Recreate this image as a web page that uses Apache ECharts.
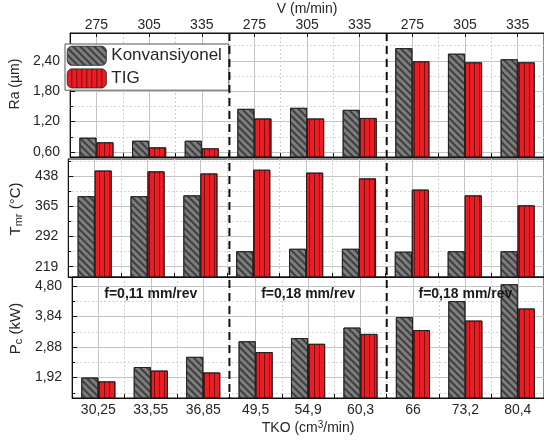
<!DOCTYPE html>
<html><head><meta charset="utf-8">
<script src="https://cdn.jsdelivr.net/npm/echarts@6/dist/echarts.min.js"></script>
<style>html,body{margin:0;padding:0;background:#fff}#c{width:544px;height:440px}</style>
</head><body><div id="c"></div>
<script>
// ---- data ----
const tkoLabels = ['30,25','33,55','36,85','49,5','54,9','60,3','66','73,2','80,4'];
const vLabels = ['275','305','335','275','305','335','275','305','335'];
const feedLabels = ['f=0,11 mm/rev','f=0,18 mm/rev','f=0,18 mm/rev'];
const seriesNames = ['Konvansiyonel','TIG'];
const raKonv = [0.88,0.82,0.82,1.45,1.47,1.43,2.65,2.54,2.43];
const raTIG  = [0.79,0.69,0.67,1.26,1.26,1.27,2.39,2.37,2.37];
const tmrKonv = [389,389,391,256,262,262,255,256,256];
const tmrTIG  = [451,449,444,453,446,432,405,391,367];
const pcKonv = [1.92,2.25,2.57,3.06,3.16,3.49,3.82,4.32,4.85];
const pcTIG  = [1.80,2.14,2.08,2.72,2.98,3.29,3.41,3.71,4.09];
const raTicks = [0.60,1.20,1.80,2.40];
const raMinor = [0.90,1.50,2.10,2.70];
const tmrTicks = [219,292,365,438];
const tmrMinor = [255.5,328.5,401.5,474.5];
const pcTicks = [1.92,2.88,3.84,4.80];
const pcMinor = [1.44,2.40,3.36,4.32];
const raRange = [0.5, 2.95];
const tmrRange = [194, 479];
const pcRange = [1.28, 5.08];

// ---- style ----
const FONT = "'Liberation Sans', Arial, sans-serif";
const TXT = '#262626';
const comma2 = v => Number(v).toFixed(2).replace('.', ',');
const halfCells = Array.from({length: 19}, () => '');

const grids = [
  {left: 64, width: 486, top: 33, height: 124},
  {left: 64, width: 486, top: 159, height: 118},
  {left: 64, width: 486, top: 277, height: 121}
].map(g => Object.assign(g, {show: true, borderColor: '#111', borderWidth: 1, backgroundColor: 'transparent'}));

function mainX(gridIndex, opts) {
  return Object.assign({
    type: 'category', gridIndex, data: tkoLabels, position: 'bottom',
    axisLine: {show: true, lineStyle: {color: '#111', width: 1}},
    axisTick: {show: true, inside: true, length: 4, lineStyle: {color: '#111'}},
    axisLabel: {show: false},
    splitLine: {show: true, lineStyle: {color: '#cfcfcf', type: [2, 2], width: 1}}
  }, opts || {});
}
function centerX(gridIndex) {
  return {
    type: 'category', gridIndex, data: halfCells, boundaryGap: false, position: 'bottom',
    axisLine: {show: false}, axisTick: {show: false}, axisLabel: {show: false},
    splitLine: {show: true, interval: (i) => i % 2 === 1, lineStyle: {color: '#c4c4c4', width: 1}}
  };
}
function mainY(gridIndex, range, ticks, fmt, name) {
  return {
    type: 'value', gridIndex, min: range[0], max: range[1],
    axisLine: {show: true, lineStyle: {color: '#111'}},
    axisTick: {show: true, inside: true, length: 5, customValues: ticks, lineStyle: {color: '#111'}},
    axisLabel: {customValues: ticks, formatter: fmt, fontFamily: FONT, fontSize: 14, color: TXT, margin: 10},
    splitLine: {show: true, lineStyle: {color: '#c4c4c4', width: 1}},
    name: name.text, nameLocation: 'middle', nameGap: name.gap, nameRotate: 90,
    nameTextStyle: {fontFamily: FONT, fontSize: 14, color: TXT, padding: [0, 0, 0, name.shift], rich: name.rich || {}}
  };
}
function minorY(gridIndex, range, ticks) {
  return {
    type: 'value', gridIndex, min: range[0], max: range[1], position: 'left',
    axisLine: {show: false},
    axisTick: {show: true, inside: true, length: 3, customValues: ticks, lineStyle: {color: '#111'}},
    axisLabel: {show: false, customValues: ticks},
    splitLine: {show: true, lineStyle: {color: '#d6d6d6', type: [2, 2], width: 1}}
  };
}

const konvStyle = {
  color: '#7d7d7d', borderColor: '#1a1a1a', borderWidth: 0.8,
  decal: {symbol: 'rect', symbolSize: 1, color: '#3e3e3e', dashArrayX: [1, 0], dashArrayY: [1.3, 3], rotation: Math.PI / 4}
};
const tigStyle = {
  color: '#ea1c24', borderColor: '#1a1a1a', borderWidth: 0.8,
  decal: {symbol: 'rect', symbolSize: 1, color: '#7a0d0d', dashArrayX: [1, 0], dashArrayY: [1, 3.4], rotation: Math.PI / 2}
};

function bar(name, data, xi, yi, style) {
  return {name, type: 'bar', data, xAxisIndex: xi, yAxisIndex: yi, barWidth: 17, barGap: '0%',
    itemStyle: style, emphasis: {disabled: true}, animation: false};
}

const option = {
  animation: false,
  backgroundColor: '#fff',
  textStyle: {fontFamily: FONT},
  grid: grids,
  legend: {
    data: seriesNames, orient: 'vertical', left: 65, top: 44,
    itemWidth: 39, itemHeight: 19, itemGap: 3, itemStyle: {borderColor: '#333', borderWidth: 0.6},
    textStyle: {fontFamily: FONT, fontSize: 17, color: TXT},
    padding: [2, 7, 2, 2], backgroundColor: '#fff', borderColor: '#555', borderWidth: 1,
    selectedMode: false, z: 10
  },
  xAxis: [
    mainX(0),
    { type: 'category', gridIndex: 0, data: vLabels, position: 'top',
      axisLine: {show: true, lineStyle: {color: '#111'}},
      axisTick: {show: true, inside: true, length: 4, alignWithLabel: true, lineStyle: {color: '#111'}},
      axisLabel: {fontFamily: FONT, fontSize: 14, color: TXT, margin: 1},
      splitLine: {show: false},
      name: 'V (m/min)', nameLocation: 'middle', nameGap: 17,
      nameTextStyle: {fontFamily: FONT, fontSize: 14, color: TXT}
    },
    mainX(1),
    mainX(2, {
      axisLabel: {show: true, fontFamily: FONT, fontSize: 14, color: TXT, margin: 5},
      name: '{a|TKO (cm}{s|3}{a|/min)}', nameLocation: 'middle', nameGap: 22,
      nameTextStyle: {rich: {a: {fontFamily: FONT, fontSize: 14, color: TXT}, s: {fontFamily: FONT, fontSize: 10, color: TXT, verticalAlign: 'top', padding: [0, 0, 6, 0]}}}
    }),
    centerX(0), centerX(1), centerX(2)
  ],
  yAxis: [
    mainY(0, raRange, raTicks, comma2, {text: 'Ra (µm)', gap: 42, shift: 22}),
    minorY(0, raRange, raMinor),
    mainY(1, tmrRange, tmrTicks, v => String(Math.round(v)), {
      text: '{a|T}{s|mr}{a| (°C)}', gap: 40, shift: 18,
      rich: {a: {fontFamily: FONT, fontSize: 15, color: TXT}, s: {fontFamily: FONT, fontSize: 11, color: TXT, verticalAlign: 'bottom', padding: [6, 0, 0, 0]}}
    }),
    minorY(1, tmrRange, tmrMinor),
    mainY(2, pcRange, pcTicks, comma2, {
      text: '{a|P}{s|c}{a| (kW)}', gap: 40, shift: 18,
      rich: {a: {fontFamily: FONT, fontSize: 15, color: TXT}, s: {fontFamily: FONT, fontSize: 11, color: TXT, verticalAlign: 'bottom', padding: [6, 0, 0, 0]}}
    }),
    minorY(2, pcRange, pcMinor)
  ],
  series: [
    bar(seriesNames[0], raKonv, 0, 0, konvStyle),
    bar(seriesNames[1], raTIG, 0, 0, tigStyle),
    bar(seriesNames[0], tmrKonv, 2, 2, konvStyle),
    bar(seriesNames[1], tmrTIG, 2, 2, tigStyle),
    bar(seriesNames[0], pcKonv, 3, 4, konvStyle),
    bar(seriesNames[1], pcTIG, 3, 4, tigStyle)
  ]
};

const chart = echarts.init(document.getElementById('c'), null, {renderer: 'canvas'});
chart.setOption(option);

// separators and feed-rate annotations, positioned via the chart's own scales
const yTop = chart.convertToPixel({yAxisIndex: 0}, raRange[1]);
const yBot = chart.convertToPixel({yAxisIndex: 4}, pcRange[0]);
const pcTop = chart.convertToPixel({yAxisIndex: 4}, pcRange[1]);
const sepX = [2, 5].map(i => (chart.convertToPixel({xAxisIndex: 3}, i) + chart.convertToPixel({xAxisIndex: 3}, i + 1)) / 2);
const graphics = sepX.map(x => ({
  type: 'line', z: 20, silent: true,
  shape: {x1: x, y1: yTop, x2: x, y2: yBot},
  style: {stroke: '#111', lineWidth: 2, lineDash: [8, 5]}
}));
[1, 4, 7].forEach((ci, k) => {
  graphics.push({
    type: 'text', z: 20, silent: true,
    x: chart.convertToPixel({xAxisIndex: 3}, ci), y: pcTop + 17,
    style: {text: feedLabels[k], font: 'bold 14px ' + FONT, fill: '#1a1a1a', align: 'center', verticalAlign: 'middle'}
  });
});
chart.setOption({graphic: graphics});
</script>
</body></html>
